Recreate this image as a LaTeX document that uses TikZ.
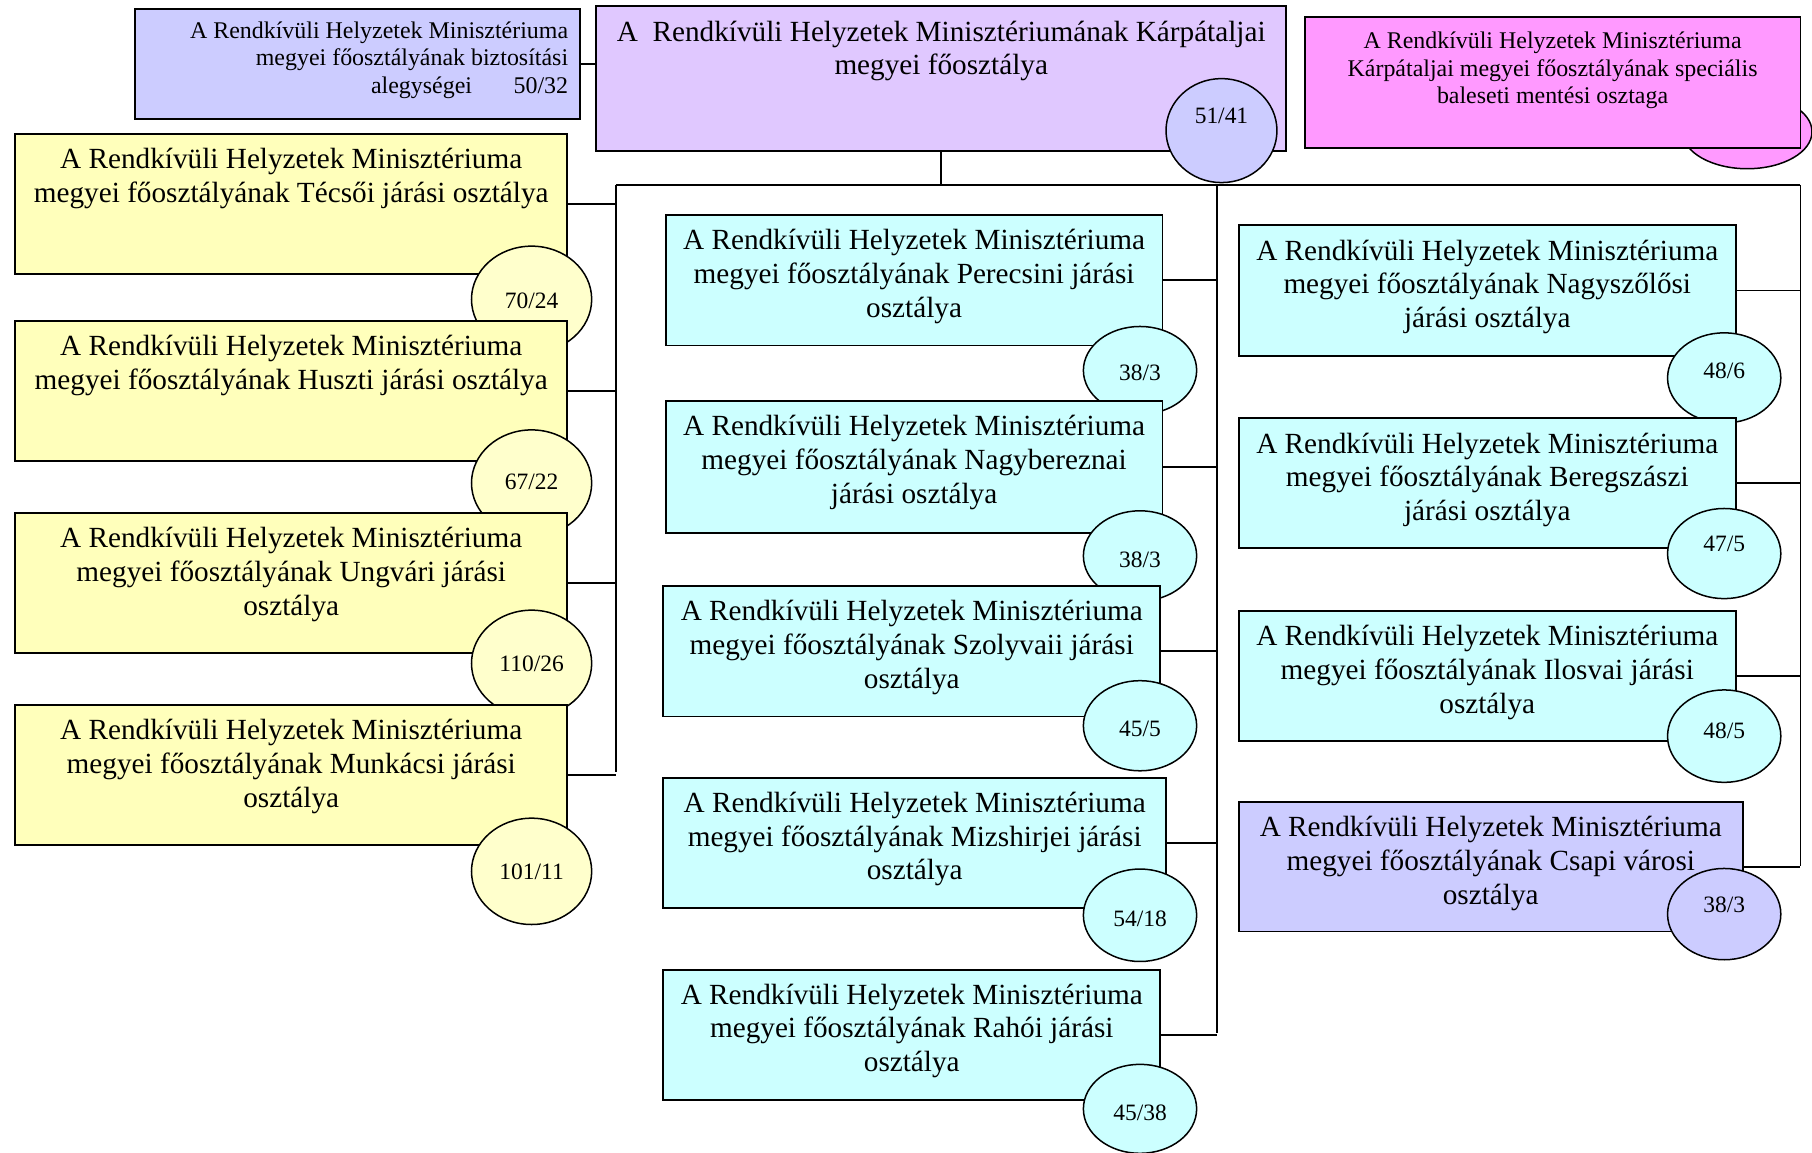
\documentclass[tikz,border=0pt]{standalone}
\usepackage{fontspec}
\setmainfont{Liberation Serif}
\usetikzlibrary{shapes.geometric}
\definecolor{cyanbox}{HTML}{CCFFFF}
\definecolor{yelbox}{HTML}{FFFFBB}
\definecolor{yelcirc}{HTML}{FFFFCC}
\definecolor{lavbox}{HTML}{CCCCFF}
\definecolor{mainfill}{HTML}{E0C8FF}
\definecolor{pinkbox}{HTML}{FF99FF}
\begin{document}
\begin{tikzpicture}[x=1pt,y=-1pt,
  box/.style={draw=black, line width=1.6pt, rectangle, inner sep=0pt},
  bigtxt/.style={font=\fontsize{25.3pt}{29.2pt}\selectfont, align=center, inner sep=0pt, anchor=north},
  smalltxt/.style={font=\fontsize{20.7pt}{23.8pt}\selectfont, align=center, inner sep=0pt, anchor=north},
  oval/.style={draw=black, line width=1.3pt, ellipse, inner sep=0pt},
  num/.style={font=\fontsize{20.3pt}{24pt}\selectfont, inner sep=0pt},
  conn/.style={line width=1.4pt},
  trunk/.style={line width=2.2pt}]
\useasboundingbox (0,0) rectangle (1568,997);

% bus coordinates
\coordinate (hbusL) at (533,160);
\coordinate (hbusR) at (1558,160);
\coordinate (lbus) at (533,668);
\coordinate (mbus) at (1053,894);
\coordinate (rbus) at (1558,749);
\coordinate (mtop) at (1053,160);

% top row
\node[box, fill=lavbox, minimum width=385pt, minimum height=95pt] (b0) at (309.5,55.5) {};
\node[smalltxt, align=right, anchor=north east] (b0t) at ([xshift=-11pt,yshift=-11.5pt]b0.north east)
  {A Rendkívüli Helyzetek Minisztériuma\\megyei főosztályának biztosítási\\alegységei\hspace{36pt}50/32};

\node[box, fill=mainfill, minimum width=597pt, minimum height=126pt] (main) at (814.5,68) {};
\node[bigtxt] (maint) at ([yshift=-13.7pt]main.north)
  {A\ \ Rendkívüli Helyzetek Minisztériumának Kárpátaljai\\megyei főosztálya};
\node[oval, fill=lavbox, minimum width=96pt, minimum height=90pt] (mainc) at (1057,113) {};
\node[num] (maincn) at (1057,100) {51/41};

\node[oval, fill=pinkbox, minimum width=112pt, minimum height=64pt] (pinkc) at (1512,114) {};
\node[box, fill=pinkbox, minimum width=429pt, minimum height=113pt] (pink) at (1343.5,71.5) {};
\node[smalltxt] (pinkt) at ([yshift=-13.5pt]pink.north)
  {A Rendkívüli Helyzetek Minisztériuma\\Kárpátaljai megyei főosztályának speciális\\baleseti mentési osztaga};

% yellow column
\node[box, fill=yelbox, minimum width=478pt, minimum height=121pt] (y1) at (252,176.5) {};
\node[bigtxt] (y1t) at ([yshift=-13pt]y1.north) {A Rendkívüli Helyzetek Minisztériuma\\megyei főosztályának Técsői járási osztálya};
\node[oval, fill=yelcirc, minimum width=104pt, minimum height=92pt] (y1c) at (460,259) {};
\node[num] (y1n) at (460,260) {70/24};

\node[box, fill=yelbox, minimum width=478pt, minimum height=121pt] (y2) at (252,338.5) {};
\node[bigtxt] (y2t) at ([yshift=-13pt]y2.north) {A Rendkívüli Helyzetek Minisztériuma\\megyei főosztályának Huszti járási osztálya};
\node[oval, fill=yelcirc, minimum width=104pt, minimum height=92pt] (y2c) at (460,418) {};
\node[num] (y2n) at (460,417) {67/22};

\node[box, fill=yelbox, minimum width=478pt, minimum height=121pt] (y3) at (252,504.5) {};
\node[bigtxt] (y3t) at ([yshift=-13pt]y3.north) {A Rendkívüli Helyzetek Minisztériuma\\megyei főosztályának Ungvári járási\\osztálya};
\node[oval, fill=yelcirc, minimum width=104pt, minimum height=92pt] (y3c) at (460,574) {};
\node[num] (y3n) at (460,574) {110/26};

\node[box, fill=yelbox, minimum width=478pt, minimum height=121pt] (y4) at (252,670.5) {};
\node[bigtxt] (y4t) at ([yshift=-13pt]y4.north) {A Rendkívüli Helyzetek Minisztériuma\\megyei főosztályának Munkácsi járási\\osztálya};
\node[oval, fill=yelcirc, minimum width=104pt, minimum height=92pt] (y4c) at (460,754) {};
\node[num] (y4n) at (460,754) {101/11};

% middle column
\node[box, fill=cyanbox, minimum width=430pt, minimum height=113pt] (c1) at (791,242.5) {};
\node[bigtxt] (c1t) at ([yshift=-13pt]c1.north) {A Rendkívüli Helyzetek Minisztériuma\\megyei főosztályának Perecsini járási\\osztálya};
\node[oval, fill=cyanbox, minimum width=98pt, minimum height=76pt] (c1c) at (986.5,320.5) {};
\node[num] (c1n) at (986.5,323) {38/3};

\node[box, fill=cyanbox, minimum width=430pt, minimum height=114pt] (c2) at (791,404) {};
\node[bigtxt] (c2t) at ([yshift=-13pt]c2.north) {A Rendkívüli Helyzetek Minisztériuma\\megyei főosztályának Nagybereznai\\járási osztálya};
\node[oval, fill=cyanbox, minimum width=98pt, minimum height=78pt] (c2c) at (986.5,481) {};
\node[num] (c2n) at (986.5,484) {38/3};

\node[box, fill=cyanbox, minimum width=430pt, minimum height=113pt] (c3) at (789,563.5) {};
\node[bigtxt] (c3t) at ([yshift=-13pt]c3.north) {A Rendkívüli Helyzetek Minisztériuma\\megyei főosztályának Szolyvaii járási\\osztálya};
\node[oval, fill=cyanbox, minimum width=98pt, minimum height=78pt] (c3c) at (986.5,628) {};
\node[num] (c3n) at (986.5,631) {45/5};

\node[box, fill=cyanbox, minimum width=435pt, minimum height=113pt] (c4) at (791.5,729.5) {};
\node[bigtxt] (c4t) at ([yshift=-13pt]c4.north) {A Rendkívüli Helyzetek Minisztériuma\\megyei főosztályának Mizshirjei járási\\osztálya};
\node[oval, fill=cyanbox, minimum width=98pt, minimum height=80pt] (c4c) at (986.5,792) {};
\node[num] (c4n) at (986.5,795) {54/18};

\node[box, fill=cyanbox, minimum width=430pt, minimum height=113pt] (c5) at (789,895.5) {};
\node[bigtxt] (c5t) at ([yshift=-13pt]c5.north) {A Rendkívüli Helyzetek Minisztériuma\\megyei főosztályának Rahói járási\\osztálya};
\node[oval, fill=cyanbox, minimum width=98pt, minimum height=77pt] (c5c) at (986.5,959.5) {};
\node[num] (c5n) at (986.5,963) {45/38};

% right column
\node[box, fill=cyanbox, minimum width=430pt, minimum height=113pt] (r1) at (1287,251.5) {};
\node[bigtxt] (r1t) at ([yshift=-13pt]r1.north) {A Rendkívüli Helyzetek Minisztériuma\\megyei főosztályának Nagyszőlősi\\járási osztálya};
\node[oval, fill=cyanbox, minimum width=98pt, minimum height=78pt] (r1c) at (1492,327) {};
\node[num] (r1n) at (1492,321) {48/6};

\node[box, fill=cyanbox, minimum width=430pt, minimum height=112pt] (r2) at (1287,418) {};
\node[bigtxt] (r2t) at ([yshift=-13pt]r2.north) {A Rendkívüli Helyzetek Minisztériuma\\megyei főosztályának Beregszászi\\járási osztálya};
\node[oval, fill=cyanbox, minimum width=98pt, minimum height=78pt] (r2c) at (1492,479) {};
\node[num] (r2n) at (1492,471) {47/5};

\node[box, fill=cyanbox, minimum width=430pt, minimum height=112pt] (r3) at (1287,585) {};
\node[bigtxt] (r3t) at ([yshift=-13pt]r3.north) {A Rendkívüli Helyzetek Minisztériuma\\megyei főosztályának Ilosvai járási\\osztálya};
\node[oval, fill=cyanbox, minimum width=98pt, minimum height=80pt] (r3c) at (1492,637) {};
\node[num] (r3n) at (1492,632) {48/5};

\node[box, fill=lavbox, minimum width=436pt, minimum height=112pt] (r4) at (1290,750) {};
\node[bigtxt] (r4t) at ([yshift=-13pt]r4.north) {A Rendkívüli Helyzetek Minisztériuma\\megyei főosztályának Csapi városi\\osztálya};
\node[oval, fill=lavbox, minimum width=98pt, minimum height=79pt] (r4c) at (1492,791) {};
\node[num] (r4n) at (1492,783) {38/3};

% connectors
\draw[conn] (b0.east) -- (b0.east -| main.west);
\draw[conn] (main.south) -- (main.south |- hbusL);
\draw[conn] (hbusL) -- (main.south |- hbusL);
\draw[trunk] (main.south |- hbusL) -- (hbusR);
\draw[conn] (hbusL) -- (lbus);
\draw[conn] (mtop) -- (mbus);
\draw[conn] (hbusR) -- (rbus);
\foreach \b in {y1,y2,y3,y4} { \draw[conn] (\b.east) -- (\b.east -| lbus); }
\foreach \b in {c1,c2,c3,c4,c5} { \draw[conn] (\b.east) -- (\b.east -| mbus); }
\foreach \b in {r1,r2,r3,r4} { \draw[conn] (\b.east) -- (\b.east -| rbus); }
\end{tikzpicture}
\end{document}
